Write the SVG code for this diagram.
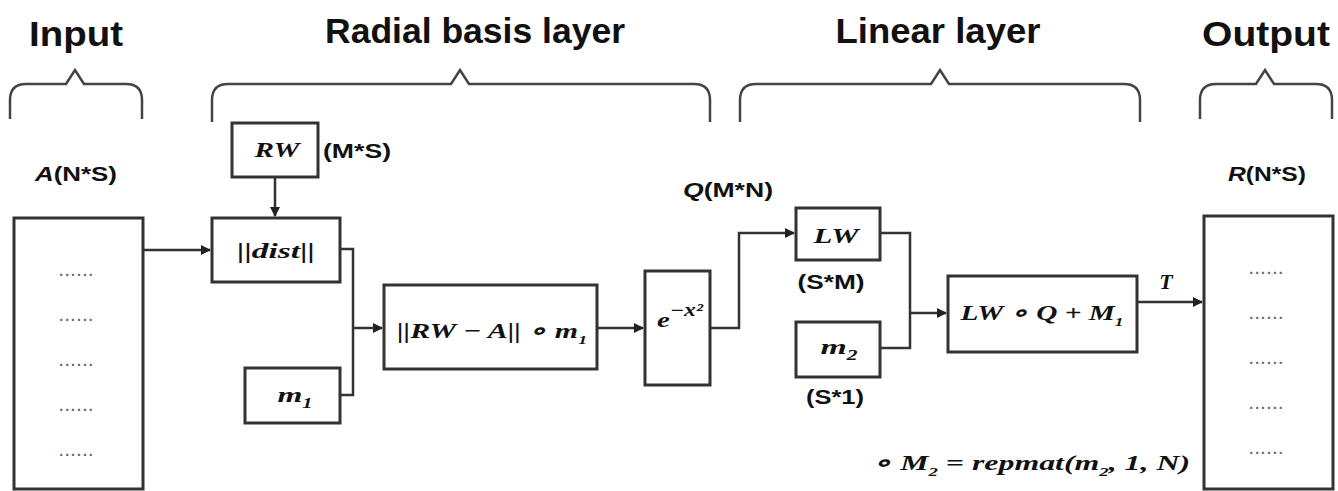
<svg xmlns="http://www.w3.org/2000/svg" width="1338" height="491" viewBox="0 0 1338 491">
<style>
.title{font-family:"Liberation Sans",Arial,sans-serif;font-weight:bold;font-size:35px;fill:#111;text-anchor:middle}
.lbl{font-family:"Liberation Sans",Arial,sans-serif;font-weight:bold;font-size:20px;fill:#111;text-anchor:middle}
.math{font-family:"Liberation Serif","Times New Roman",serif;font-style:italic;font-weight:bold;font-size:22px;fill:#111;text-anchor:middle}
.dots{font-family:"Liberation Sans",Arial,sans-serif;font-weight:bold;font-size:14px;fill:#666;text-anchor:middle;letter-spacing:2px}
.box{fill:#fff;stroke:#333;stroke-width:3}
.brace{fill:none;stroke:#444;stroke-width:2.5}
.conn{fill:none;stroke:#333;stroke-width:2.5}
</style>
<defs>
<marker id="arr" markerWidth="10" markerHeight="10" refX="9" refY="5" orient="auto" markerUnits="userSpaceOnUse">
<path d="M0,0 L10,5 L0,10 Z" fill="#222"/>
</marker>
</defs>
<rect width="1338" height="491" fill="#fff"/>

<g id="titles">
<text class="title" x="76" y="46" textLength="94" lengthAdjust="spacingAndGlyphs">Input</text>
<text class="title" x="475" y="43" textLength="300" lengthAdjust="spacingAndGlyphs">Radial basis layer</text>
<text class="title" x="938" y="43" textLength="205" lengthAdjust="spacingAndGlyphs">Linear layer</text>
<text class="title" x="1266" y="46" textLength="128" lengthAdjust="spacingAndGlyphs">Output</text>
</g>

<g id="braces">
<path class="brace" d="M10,119 L10,100 Q10,84 26,84 L66,84 L75,70 L84,84 L126,84 Q142,84 142,100 L142,119"/>
<path class="brace" d="M212,122 L212,100 Q212,84 228,84 L451,84 L460,70 L469,84 L694,84 Q710,84 710,100 L710,122"/>
<path class="brace" d="M740,122 L740,100 Q740,84 756,84 L931,84 L940,70 L949,84 L1124,84 Q1140,84 1140,100 L1140,122"/>
<path class="brace" d="M1200,119 L1200,100 Q1200,84 1216,84 L1256,84 L1265,70 L1274,84 L1316,84 Q1332,84 1332,100 L1332,119"/>
</g>

<g id="input">
<text class="lbl" x="76" y="181" textLength="82" lengthAdjust="spacingAndGlyphs"><tspan font-style="italic">A</tspan>(N*S)</text>
<rect class="box" x="14" y="218" width="129" height="271"/>
<text class="dots" x="77" y="276">......</text>
<text class="dots" x="77" y="321">......</text>
<text class="dots" x="77" y="366">......</text>
<text class="dots" x="77" y="411">......</text>
<text class="dots" x="77" y="456">......</text>
</g>

<g id="rw">
<rect class="box" x="232" y="123" width="86" height="54"/>
<text class="math" x="277" y="157" textLength="45" lengthAdjust="spacingAndGlyphs">RW</text>
<text class="lbl" x="357" y="158" textLength="68" lengthAdjust="spacingAndGlyphs">(M*S)</text>
</g>

<g id="dist">
<rect class="box" x="212" y="218" width="128" height="64"/>
<text class="math" x="276" y="258" font-weight="normal" textLength="78" lengthAdjust="spacingAndGlyphs">||<tspan font-weight="bold">dist</tspan>||</text>
</g>

<g id="m1">
<rect class="box" x="245" y="368" width="95" height="55"/>
<text class="math" x="295" y="402" font-size="27" textLength="35" lengthAdjust="spacingAndGlyphs">m<tspan font-size="14" dy="6">1</tspan></text>
</g>

<g id="rbf">
<rect class="box" x="384" y="285" width="213" height="84"/>
<text class="math" x="492" y="338" textLength="190" lengthAdjust="spacingAndGlyphs">||RW − A|| ∘ m<tspan font-size="13" dy="6">1</tspan></text>
</g>

<g id="gauss">
<rect class="box" x="645" y="271" width="65" height="114"/>
<text class="math" x="680" y="327" font-size="26" textLength="46" lengthAdjust="spacingAndGlyphs">e<tspan font-size="18" dy="-11">−x²</tspan></text>
<text class="lbl" x="728" y="197" textLength="90" lengthAdjust="spacingAndGlyphs"><tspan font-style="italic">Q</tspan>(M*N)</text>
</g>

<g id="lw">
<rect class="box" x="796" y="208" width="84" height="52"/>
<text class="math" x="836" y="243" textLength="45" lengthAdjust="spacingAndGlyphs">LW</text>
<text class="lbl" x="831" y="289" textLength="67" lengthAdjust="spacingAndGlyphs">(S*M)</text>
</g>

<g id="m2">
<rect class="box" x="796" y="322" width="84" height="55"/>
<text class="math" x="839" y="354" font-size="27" textLength="37" lengthAdjust="spacingAndGlyphs">m<tspan font-size="14" dy="6">2</tspan></text>
<text class="lbl" x="835" y="404" textLength="58" lengthAdjust="spacingAndGlyphs">(S*1)</text>
</g>

<g id="lin">
<rect class="box" x="948" y="276" width="189" height="76"/>
<text class="math" x="1042" y="320" textLength="163" lengthAdjust="spacingAndGlyphs">LW ∘ Q + M<tspan font-size="13" dy="6">1</tspan></text>
</g>

<g id="output">
<text class="lbl" x="1267" y="181" textLength="78" lengthAdjust="spacingAndGlyphs"><tspan font-style="italic">R</tspan>(N*S)</text>
<rect class="box" x="1204" y="216" width="129" height="273"/>
<text class="dots" x="1267" y="274">......</text>
<text class="dots" x="1267" y="319">......</text>
<text class="dots" x="1267" y="364">......</text>
<text class="dots" x="1267" y="409">......</text>
<text class="dots" x="1267" y="454">......</text>
</g>

<g id="note">
<text class="math" x="1031" y="470" textLength="318" lengthAdjust="spacingAndGlyphs">∘ M<tspan font-size="13" dy="6">2</tspan><tspan dy="-6"> = repmat(m</tspan><tspan font-size="13" dy="6">2</tspan><tspan dy="-6">, 1, N)</tspan></text>
</g>

<g id="connectors">
<path class="conn" d="M143,250 L210,250" marker-end="url(#arr)"/>
<path class="conn" d="M275,177 L275,216" marker-end="url(#arr)"/>
<path class="conn" d="M340,249 L353,249 L353,395 L340,395"/>
<path class="conn" d="M353,328 L382,328" marker-end="url(#arr)"/>
<path class="conn" d="M597,328 L643,328" marker-end="url(#arr)"/>
<path class="conn" d="M710,328 L739,328 L739,233 L794,233" marker-end="url(#arr)"/>
<path class="conn" d="M880,233 L910,233 L910,348 L880,348"/>
<path class="conn" d="M910,313 L946,313" marker-end="url(#arr)"/>
<path class="conn" d="M1137,302 L1202,302" marker-end="url(#arr)"/>
<text class="math" x="1166" y="289">T</text>
</g>
</svg>
